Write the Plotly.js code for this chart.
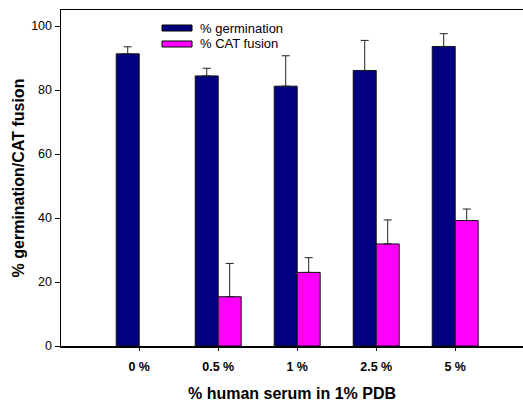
<!DOCTYPE html>
<html>
<head>
<meta charset="utf-8">
<script src="https://cdn.plot.ly/plotly-3.0.1.min.js"></script>
<style>
  html, body { margin: 0; padding: 0; background: #fff; overflow: hidden; }
  #chart { width: 523px; height: 403px; }
</style>
</head>
<body>
<div id="chart"></div>
<script>
// Serum concentrations tested
const categories = ['0 %', '0.5 %', '1 %', '2.5 %', '5 %'];

// Mean percentages and upper error (SD) per concentration
const germination = [91.3, 84.4, 81.2, 86.1, 93.6];
const germinationErr = [2.2, 2.4, 9.5, 9.4, 4.0];
const catFusion = [null, 15.4, 23.0, 31.9, 39.2];
const catFusionErr = [null, 10.4, 4.6, 7.5, 3.6];

const seriesNames = ['% germination', '% CAT fusion'];
const seriesColors = ['#000080', '#FF00FF'];

const xIdx = categories.map((_, i) => i);

// Plot area size in px (61..523 across, 10..346 down)
const plotW = 462;
const plotH = 336;

function barTrace(name, y, err, color) {
  return {
    type: 'bar',
    name: name,
    x: xIdx,
    y: y,
    marker: { color: color, line: { color: '#111', width: 1 } },
    error_y: {
      type: 'data',
      symmetric: false,
      array: err,
      arrayminus: err.map(() => 0),
      color: '#222',
      thickness: 1,
      width: 4
    },
    showlegend: false
  };
}

const traces = [
  barTrace(seriesNames[0], germination, germinationErr, seriesColors[0]),
  barTrace(seriesNames[1], catFusion, catFusionErr, seriesColors[1])
];

// Hand-built legend: wide colour swatches with labels
const legendShapes = seriesColors.map((c, i) => ({
  type: 'rect', xref: 'paper', yref: 'paper',
  x0: (162 - 61) / plotW, x1: (192 - 61) / plotW,
  y0: (346 - (31 + 16 * i)) / plotH, y1: (346 - (25 + 16 * i)) / plotH,
  fillcolor: c, line: { color: '#000', width: 1 }
}));
const legendLabels = seriesNames.map((n, i) => ({
  xref: 'paper', yref: 'paper',
  x: (198 - 61) / plotW, y: (346 - (28 + 16 * i)) / plotH,
  xanchor: 'left', yanchor: 'middle',
  text: n, showarrow: false,
  font: { family: 'Liberation Sans, Arial, sans-serif', size: 13, color: '#000' }
}));

const layout = {
  width: 523,
  height: 403,
  margin: { l: 61, r: 0, t: 10, b: 57 },
  paper_bgcolor: '#fff',
  plot_bgcolor: '#fff',
  barmode: 'group',
  bargap: 0.418,
  bargroupgap: 0,
  font: { family: 'Liberation Sans, Arial, sans-serif', color: '#000' },
  xaxis: {
    range: [-0.99, -0.99 + plotW / 79],
    tickmode: 'array',
    tickvals: xIdx,
    ticktext: categories,
    tickfont: { size: 12.5, weight: 'bold', color: '#000' },
    ticks: 'outside',
    ticklen: 3,
    tickcolor: '#000',
    ticklabelstandoff: 5,
    showline: true,
    linecolor: '#000',
    linewidth: 1.5,
    mirror: true,
    showgrid: false,
    zeroline: false,
    title: {
      text: '% human serum in 1% PDB',
      font: { size: 16, weight: 'bold', color: '#000' },
      standoff: 15
    }
  },
  yaxis: {
    range: [0, 105],
    tickmode: 'array',
    tickvals: [0, 20, 40, 60, 80, 100],
    tickfont: { size: 12.5, color: '#000' },
    ticks: 'outside',
    ticklen: 5,
    tickcolor: '#000',
    showline: true,
    mirror: false,
    linecolor: '#000',
    linewidth: 1.5,
    showgrid: false,
    zeroline: false,
    title: {
      text: '% germination/CAT fusion',
      font: { size: 16, weight: 'bold', color: '#000' },
      standoff: 2
    }
  },
  shapes: legendShapes,
  annotations: legendLabels,
  showlegend: false
};

Plotly.newPlot('chart', traces, layout, { displayModeBar: false, staticPlot: true });
</script>
</body>
</html>
